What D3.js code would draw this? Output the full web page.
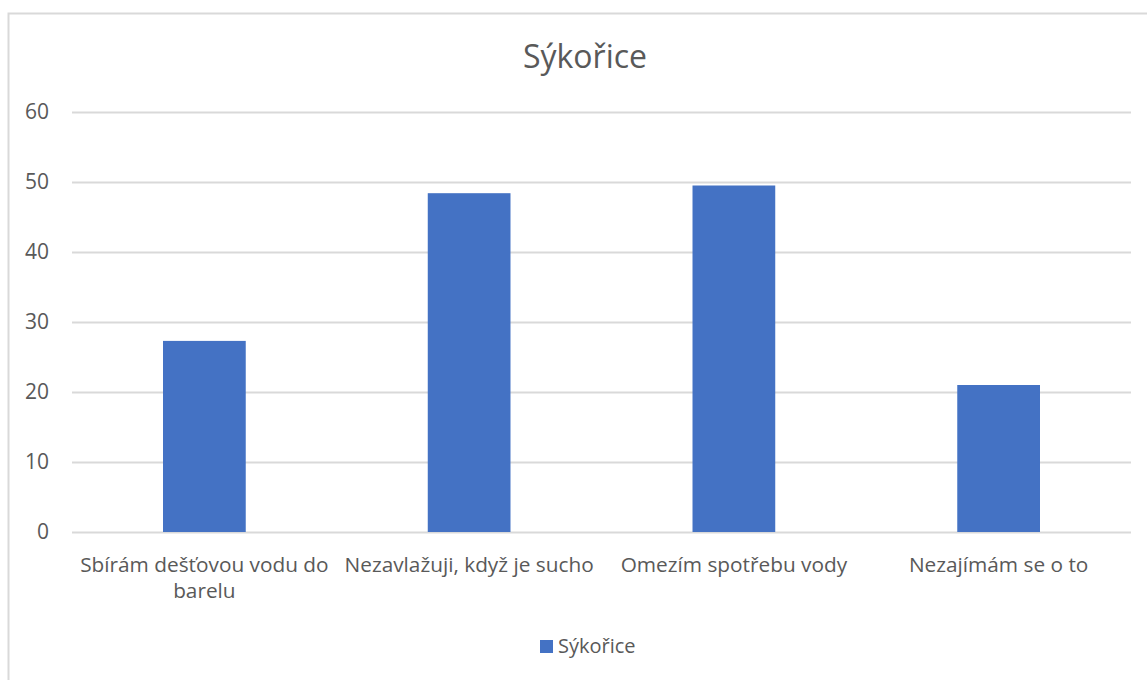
<!DOCTYPE html>
<html>
<head>
<meta charset="utf-8">
<script src="https://cdn.jsdelivr.net/npm/d3@7"></script>
<style>
  html, body { margin: 0; padding: 0; background: #fff; }
  svg { display: block; font-family: "Open Sans", sans-serif; }
</style>
</head>
<body>
<svg id="chart" width="1147" height="680"></svg>
<script>
// Survey answers and their values
const categories = [
  ["Sbírám dešťovou vodu do", "barelu"],
  ["Nezavlažuji, když je sucho"],
  ["Omezím spotřebu vody"],
  ["Nezajímám se o to"]
];
const values = [27.3, 48.4, 49.5, 21.0];
const yTicks = [0, 10, 20, 30, 40, 50, 60];
const seriesName = "Sýkořice";
const chartTitle = "Sýkořice";

const svg = d3.select("#chart");
const W = 1147, H = 680;
const margin = { left: 72, right: 16, top: 112, bottom: 148 };
const font = "'Open Sans', sans-serif";
const textColor = "#595959";
const gridColor = "#d9d9d9";
const barColor = "#4472c4";

// Outer chart frame
svg.append("rect")
  .attr("x", 8.5).attr("y", 13.5)
  .attr("width", 1300).attr("height", 1000)
  .attr("fill", "#fff").attr("stroke", gridColor).attr("stroke-width", 2);

const x = d3.scaleBand()
  .domain(d3.range(categories.length))
  .range([margin.left, W - margin.right])
  .paddingInner(0.6875).paddingOuter(0.34375);

const y = d3.scaleLinear()
  .domain([0, 60])
  .range([H - margin.bottom, margin.top]);

// Horizontal gridlines and y labels
const yAxis = d3.axisLeft(y)
  .tickValues(yTicks)
  .tickSize(-(W - margin.right - margin.left))
  .tickPadding(23);
const gy = svg.append("g")
  .attr("transform", `translate(${margin.left},0)`)
  .call(yAxis)
  .attr("font-family", font)
  .attr("font-size", 21);
gy.select(".domain").remove();
gy.selectAll(".tick line").attr("stroke", gridColor).attr("stroke-width", 2);
gy.selectAll(".tick text").attr("fill", textColor);

// Bars
svg.append("g").selectAll("rect")
  .data(values)
  .join("rect")
  .attr("x", (d, i) => x(i))
  .attr("width", x.bandwidth())
  .attr("y", d => y(d))
  .attr("height", d => y(0) - y(d))
  .attr("fill", barColor);

// Category labels under the axis
const xAxis = d3.axisBottom(x).tickSize(0).tickFormat(() => "");
const gx = svg.append("g")
  .attr("transform", `translate(0,${y(0)})`)
  .call(xAxis)
  .attr("font-family", font)
  .attr("font-size", 20.8);
gx.select(".domain").remove();
gx.selectAll(".tick").each(function (i) {
  const t = d3.select(this).append("text")
    .attr("text-anchor", "middle")
    .attr("fill", textColor);
  categories[i].forEach((line, k) => {
    t.append("tspan").attr("x", 0).attr("y", 40 + k * 26).text(line);
  });
});

// Title
svg.append("text")
  .attr("x", 585).attr("y", 68)
  .attr("text-anchor", "middle")
  .attr("fill", textColor)
  .style("font-size", "32px")
  .text(chartTitle);

// Legend
const lg = svg.append("g").attr("transform", "translate(540,640)");
lg.append("rect").attr("width", 13).attr("height", 13).attr("fill", barColor);
lg.append("text")
  .attr("x", 18).attr("y", 13)
  .attr("fill", textColor)
  .style("font-size", "20px")
  .text(seriesName);
</script>
</body>
</html>
